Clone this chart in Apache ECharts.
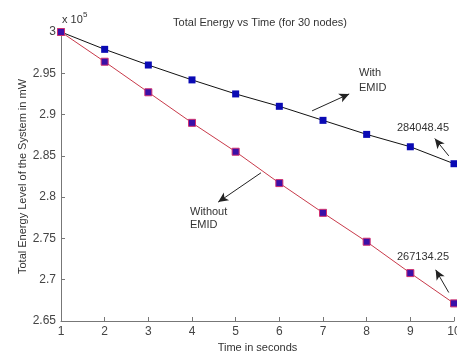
<!DOCTYPE html>
<html>
<head>
<meta charset="utf-8">
<script src="https://cdn.jsdelivr.net/npm/echarts@6/dist/echarts.min.js"></script>
<style>
  html, body { margin: 0; padding: 0; background: #fff; }
  #chart { width: 457px; height: 352px; }
</style>
</head>
<body>
<div id="chart"></div>
<script>
// time in seconds
const seconds = [1, 2, 3, 4, 5, 6, 7, 8, 9, 10];
// total energy, mW
const withEmid = [300000, 297900, 296000, 294200, 292500, 291000, 289300, 287600, 286100, 284048.45];
const withoutEmid = [300000, 296400, 292700, 289000, 285500, 281700, 278100, 274600, 270800, 267134.25];

// annotation arrows [from, to] in data units
const emidArrow = [[6.75, 290450], [7.6, 292500]];
const emidEndArrow = [[9.88, 285000], [9.56, 287100]];
const noEmidArrow = [[5.58, 282950], [4.6, 279400]];
const noEmidEndArrow = [[9.88, 268450], [9.58, 271200]];

const font = '"Liberation Sans", Arial, sans-serif';
const chart = echarts.init(document.getElementById('chart'));

const pair = (xs, ys) => xs.map((x, i) => [x, ys[i]]);
const arrow = (a) => [{ coord: a[0] }, { coord: a[1] }];

chart.setOption({
  backgroundColor: '#fff',
  animation: false,
  title: {
    text: 'Total Energy vs Time (for 30 nodes)',
    left: 255, top: 12, textAlign: 'center',
    textStyle: { fontFamily: font, fontSize: 11, fontWeight: 'normal', color: '#333' },
  },
  grid: { left: 61, right: 3, top: 32, bottom: 31, containLabel: false, outerBoundsMode: 'none' },
  xAxis: {
    type: 'value', min: 1, max: 10, interval: 1,
    name: 'Time in seconds', nameLocation: 'middle', nameGap: 17,
    nameTextStyle: { fontFamily: font, fontSize: 11, color: '#333' },
    axisLine: { lineStyle: { color: '#777' } },
    axisTick: { inside: true, length: 4, lineStyle: { color: '#777' } },
    axisLabel: { fontFamily: font, fontSize: 12, color: '#444', margin: 5 },
    splitLine: { show: false },
  },
  yAxis: {
    type: 'value', min: 265000, max: 300000, interval: 5000,
    name: 'Total Energy Level of the System in mW', nameLocation: 'middle', nameGap: 33,
    nameMoveOverlap: false,
    nameTextStyle: { fontFamily: font, fontSize: 11, color: '#333' },
    axisLine: { show: true, lineStyle: { color: '#777' } },
    axisTick: { show: true, inside: true, length: 4, lineStyle: { color: '#777' } },
    axisLabel: {
      fontFamily: font, fontSize: 12, color: '#444', margin: 5,
      formatter: (v) => String(+(v / 1e5).toFixed(2)),
    },
    splitLine: { show: false },
  },
  graphic: [
    { type: 'text', left: 62, top: 14, style: { text: 'x 10', font: '11px ' + font, fill: '#333' } },
    { type: 'text', left: 83, top: 11, style: { text: '5', font: '8px ' + font, fill: '#333' } },
    { type: 'text', left: 359, top: 65, style: { text: 'With\nEMID', font: '11px ' + font, fill: '#333', lineHeight: 15 } },
    { type: 'text', left: 397, top: 122, style: { text: '284048.45', font: '11px ' + font, fill: '#333' } },
    { type: 'text', left: 397, top: 251, style: { text: '267134.25', font: '11px ' + font, fill: '#333' } },
    { type: 'text', left: 190, top: 205, style: { text: 'Without\nEMID', font: '11px ' + font, fill: '#333', lineHeight: 13 } },
  ],
  series: [
    {
      name: 'With EMID', type: 'line',
      data: pair(seconds, withEmid),
      symbol: 'rect', symbolSize: 7,
      itemStyle: { color: '#0a0ab4', borderColor: '#1010a0', borderWidth: 0 },
      lineStyle: { color: '#111', width: 1 },
      markLine: {
        silent: true, symbol: ['none', 'arrow'], symbolSize: [7, 10],
        label: { show: false },
        lineStyle: { color: '#222', width: 1, type: 'solid' },
        data: [arrow(emidArrow), arrow(emidEndArrow), arrow(noEmidArrow), arrow(noEmidEndArrow)],
      },
    },
    {
      name: 'Without EMID', type: 'line',
      data: pair(seconds, withoutEmid),
      symbol: 'rect', symbolSize: 7,
      itemStyle: { color: '#3a10a8', borderColor: '#d03070', borderWidth: 1 },
      lineStyle: { color: '#c83a4a', width: 1 },
    },
  ],
});
</script>
</body>
</html>
